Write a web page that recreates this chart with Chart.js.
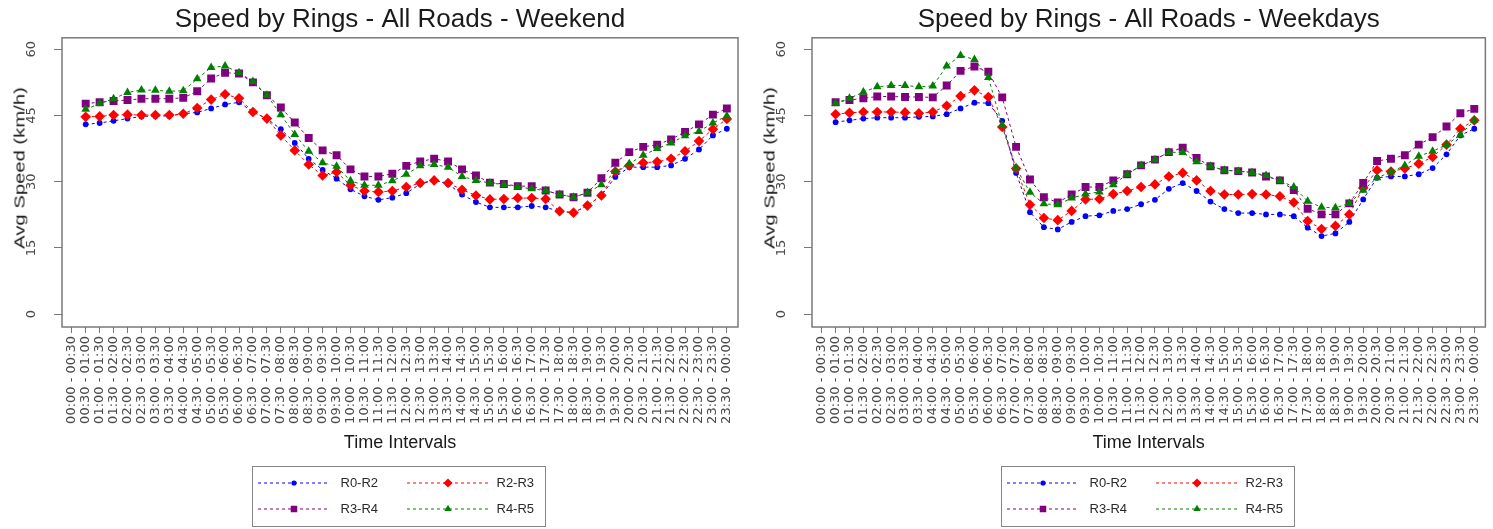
<!DOCTYPE html>
<html>
<head>
<meta charset="utf-8">
<script src="https://cdn.jsdelivr.net/npm/chart.js@4.4.0/dist/chart.umd.min.js"></script>
<style>
html,body{margin:0;padding:0;background:#fff;}
#wrap{position:relative;width:1493px;height:529px;overflow:hidden;background:#fff;}
.cv{position:absolute;top:0;}
.legend{position:absolute;top:466px;height:61px;width:294px;border:1.5px solid #858585;box-sizing:border-box;font-family:"Liberation Sans",Arial,sans-serif;font-size:13px;color:#2a2a2a;}
.sym{position:absolute;}
.txt{position:absolute;line-height:16px;white-space:nowrap;}
.ytitle{position:absolute;white-space:nowrap;font-family:"Liberation Sans",Arial,sans-serif;font-size:15px;line-height:1;color:#1a1a1a;transform:translate(-50%,-50%) rotate(-90deg) scaleX(1.35);}
</style>
</head>
<body>
<div id="wrap">
  <div class="cv" style="left:0;"><canvas id="c1" width="750" height="529"></canvas></div>
  <div class="cv" style="left:750px;"><canvas id="c2" width="743" height="529"></canvas></div>
  <div class="ytitle" id="yt1" style="left:18.5px;top:168px;"></div>
  <div class="ytitle" id="yt2" style="left:768.5px;top:168px;"></div>
  <div class="legend" id="lg1" style="left:252px;"></div>
  <div class="legend" id="lg2" style="left:1001px;"></div>
</div>
<script>
// ---------- data ----------
const timeLabels = [
  "00:00 - 00:30","00:30 - 01:00","01:00 - 01:30","01:30 - 02:00","02:00 - 02:30","02:30 - 03:00",
  "03:00 - 03:30","03:30 - 04:00","04:00 - 04:30","04:30 - 05:00","05:00 - 05:30","05:30 - 06:00",
  "06:00 - 06:30","06:30 - 07:00","07:00 - 07:30","07:30 - 08:00","08:00 - 08:30","08:30 - 09:00",
  "09:00 - 09:30","09:30 - 10:00","10:00 - 10:30","10:30 - 11:00","11:00 - 11:30","11:30 - 12:00",
  "12:00 - 12:30","12:30 - 13:00","13:00 - 13:30","13:30 - 14:00","14:00 - 14:30","14:30 - 15:00",
  "15:00 - 15:30","15:30 - 16:00","16:00 - 16:30","16:30 - 17:00","17:00 - 17:30","17:30 - 18:00",
  "18:00 - 18:30","18:30 - 19:00","19:00 - 19:30","19:30 - 20:00","20:00 - 20:30","20:30 - 21:00",
  "21:00 - 21:30","21:30 - 22:00","22:00 - 22:30","22:30 - 23:00","23:00 - 23:30","23:30 - 00:00"
];
const yTickValues = [0, 15, 30, 45, 60];
const seriesNames = ["R0-R2", "R2-R3", "R3-R4", "R4-R5"];
const yAxisTitle = "Avg Speed (km/h)";
const xAxisTitle = "Time Intervals";

const weekendR0R2 = [null,43.0,43.3,43.8,44.3,44.8,44.9,44.9,45.4,45.7,46.6,47.5,48.0,45.8,44.3,41.9,38.8,35.2,32.7,30.7,28.3,26.7,25.9,26.4,
  27.4,29.5,30.3,29.5,27.1,25.4,24.2,24.2,24.2,24.5,24.2,23.3,23.0,24.6,26.9,31.1,33.3,33.3,33.3,33.7,35.2,37.3,40.5,42.0];
const weekendR2R3 = [null,44.7,44.8,45.1,45.2,45.1,45.1,45.1,45.4,46.7,48.6,49.8,48.9,45.8,44.3,40.5,37.1,33.9,31.4,32.2,29.2,27.9,27.7,27.9,
  28.8,29.7,30.3,29.7,28.2,26.9,26.0,26.1,26.3,26.3,26.1,23.3,23.0,24.6,26.9,32.3,33.7,34.3,34.5,35.2,36.9,39.2,41.9,44.2];
const weekendR3R4 = [null,47.7,48.0,48.3,48.5,48.8,48.8,48.8,49.0,50.5,53.4,54.7,54.5,52.5,49.6,46.8,43.4,39.9,37.1,36.0,32.8,31.2,31.2,31.8,
  33.6,34.6,35.2,34.6,32.8,31.4,29.8,29.5,29.0,29.0,28.0,27.1,26.5,27.5,30.8,34.3,36.7,37.9,38.4,39.6,41.3,43.0,45.2,46.6];
const weekendR4R5 = [null,46.4,47.7,48.8,50.2,50.8,50.7,50.5,50.6,53.3,55.9,56.2,54.7,52.7,49.6,45.2,40.7,36.9,34.3,33.5,30.2,29.2,29.2,30.2,
  31.7,33.6,33.9,33.3,31.2,30.3,29.7,29.4,28.8,28.4,28.0,27.1,26.5,27.5,29.3,32.3,34.1,36.0,37.5,38.8,40.4,41.4,43.3,44.9];

const weekdayR0R2 = [null,43.5,43.9,44.3,44.5,44.5,44.5,44.7,44.8,45.3,46.6,47.9,47.8,43.8,32.0,23.1,19.7,
  19.2,20.9,22.2,22.4,23.4,23.8,24.9,25.9,28.4,29.7,27.9,25.5,23.8,22.9,22.9,22.6,
  22.6,22.2,19.6,17.7,18.3,20.9,26.0,30.9,31.2,31.2,31.7,33.1,36.2,40.5,42.0];
const weekdayR2R3 = [null,45.3,45.6,45.8,45.8,45.8,45.7,45.5,45.8,47.2,49.4,50.7,49.2,42.4,33.0,24.8,21.8,
  21.3,23.4,26.0,26.1,27.2,27.9,28.8,29.4,31.2,32.0,30.3,27.9,27.1,27.1,27.2,27.1,
  26.7,25.3,21.1,19.3,20.0,22.6,28.6,32.6,32.3,33.0,34.1,35.6,38.4,42.0,43.9];
const weekdayR3R4 = [null,48.0,48.5,48.9,49.3,49.3,49.2,49.2,49.1,51.8,55.1,56.1,54.9,49.1,37.9,30.5,26.5,
  25.3,27.1,28.8,28.8,30.3,31.7,33.7,35.0,36.7,37.7,35.4,33.5,32.6,32.4,32.1,31.2,
  30.3,28.1,23.9,22.6,22.6,25.1,29.7,34.7,35.2,36.0,38.4,40.1,42.5,45.5,46.5];
const weekdayR4R5 = [null,47.8,48.9,50.3,51.5,51.8,51.8,51.5,51.7,56.2,58.6,57.7,53.6,42.8,33.1,27.6,25.0,
  24.8,26.3,27.2,27.7,29.3,31.7,33.7,35.0,36.7,36.6,34.5,33.5,32.6,32.4,32.1,31.4,
  30.3,28.8,25.6,24.2,24.1,25.1,28.1,30.9,32.2,33.7,35.8,36.9,38.4,40.6,43.9];

// ---------- styles ----------
const seriesStyles = [
  {color:"#0000ff", pointStyle:"circle",   radius:2.9, legendRadius:2.6},
  {color:"#ff0000", pointStyle:"rectRot",  radius:5.3, legendRadius:4.6},
  {color:"#800080", pointStyle:"rect",     radius:5.6, legendRadius:4.6},
  {color:"#008000", pointStyle:"triangle", radius:5.0, legendRadius:4.2}
];

const boxPlugin = {
  id:"plotBox",
  afterDraw(chart){
    const {ctx, chartArea:a} = chart;
    ctx.save();
    ctx.strokeStyle = "#7a7a7a";
    ctx.lineWidth = 1.5;
    ctx.strokeRect(a.left, a.top, a.right - a.left, a.bottom - a.top);
    ctx.restore();
  }
};

function makeChart(canvasId, titleText, seriesList, padRight){
  const datasets = seriesList.map((arr, k) => ({
    label: seriesNames[k],
    data: timeLabels.map((t, i) => ({x: i, y: arr[i]})),
    borderColor: seriesStyles[k].color,
    backgroundColor: seriesStyles[k].color,
    pointBackgroundColor: seriesStyles[k].color,
    pointBorderWidth: 0,
    pointStyle: seriesStyles[k].pointStyle,
    pointRadius: seriesStyles[k].radius,
    borderWidth: 1,
    borderDash: [3, 3],
    tension: 0,
    order: 4 - k
  }));
  return new Chart(document.getElementById(canvasId), {
    type: "line",
    data: {datasets},
    options: {
      responsive: false,
      animation: false,
      devicePixelRatio: 1,
      layout: {padding: {left: 0, right: padRight, top: 0, bottom: 74}},
      plugins: {
        legend: {display: false},
        tooltip: {enabled: false},
        title: {
          display: true, text: titleText, fullSize: false, color: "#1a1a1a",
          font: {family: "'Liberation Sans', Arial, sans-serif", size: 26, weight: "normal"},
          padding: {top: 4, bottom: 2.6}
        }
      },
      scales: {
        x: {
          type: "linear", min: -0.7, max: 47.8,
          afterBuildTicks: ax => { ax.ticks = timeLabels.map((t, i) => ({value: i})); },
          afterFit: s => { s.height = 128; },
          ticks: {
            autoSkip: false, minRotation: 90, maxRotation: 90, padding: 3, color: "#4a4a4a",
            font: {family: "'DejaVu Sans', sans-serif", size: 13},
            callback: v => timeLabels[v]
          },
          grid: {drawOnChartArea: false, drawTicks: true, tickLength: 6, color: "#777"},
          border: {display: false},
          title: {
            display: true, text: xAxisTitle, color: "#1a1a1a",
            font: {family: "'Liberation Sans', Arial, sans-serif", size: 18},
            padding: {top: 0, bottom: 1}
          }
        },
        y: {
          min: -2.9, max: 62.6,
          afterBuildTicks: ax => { ax.ticks = yTickValues.map(v => ({value: v})); },
          afterFit: s => { s.width = 62; },
          ticks: {
            minRotation: 90, maxRotation: 90, crossAlign: "center", padding: 14, color: "#4a4a4a",
            font: {family: "'DejaVu Sans', sans-serif", size: 13}
          },
          grid: {drawOnChartArea: false, drawTicks: true, tickLength: 8, color: "#777"},
          border: {display: false},
          title: {display: false}
        }
      }
    },
    plugins: [boxPlugin]
  });
}

makeChart("c1", "Speed by Rings - All Roads - Weekend", [weekendR0R2, weekendR2R3, weekendR3R4, weekendR4R5], 12);
makeChart("c2", "Speed by Rings - All Roads - Weekdays", [weekdayR0R2, weekdayR2R3, weekdayR3R4, weekdayR4R5], 4);
document.getElementById("yt1").textContent = yAxisTitle;
document.getElementById("yt2").textContent = yAxisTitle;

// ---------- legends ----------
const legendSlots = [
  {lineStart: 6,   lineEnd: 78,  marker: 42,  text: 89,  row: 17},
  {lineStart: 155, lineEnd: 236, marker: 196, text: 245, row: 17},
  {lineStart: 6,   lineEnd: 78,  marker: 42,  text: 89,  row: 43},
  {lineStart: 155, lineEnd: 236, marker: 196, text: 245, row: 43}
];
function buildLegend(id){
  const box = document.getElementById(id);
  seriesNames.forEach((name, k) => {
    const slot = legendSlots[k];
    const st = seriesStyles[k];
    const w = slot.lineEnd - slot.lineStart, h = 14;
    const c = document.createElement("canvas");
    c.width = w; c.height = h; c.className = "sym";
    c.style.left = (slot.lineStart - 1.5) + "px";
    c.style.top = (slot.row - h / 2 - 1.5) + "px";
    const ctx = c.getContext("2d");
    ctx.strokeStyle = st.color; ctx.lineWidth = 1; ctx.setLineDash([3, 3]);
    ctx.beginPath(); ctx.moveTo(0, h / 2); ctx.lineTo(w, h / 2); ctx.stroke();
    ctx.setLineDash([]);
    ctx.fillStyle = st.color;
    Chart.helpers.drawPoint(ctx, {pointStyle: st.pointStyle, radius: st.legendRadius, borderWidth: 0}, slot.marker - slot.lineStart, h / 2);
    box.appendChild(c);
    const t = document.createElement("div");
    t.className = "txt";
    t.textContent = name;
    t.style.left = (slot.text - 1.5) + "px";
    t.style.top = (slot.row - 8 - 1.5) + "px";
    box.appendChild(t);
  });
}
buildLegend("lg1");
buildLegend("lg2");
</script>
</body>
</html>
